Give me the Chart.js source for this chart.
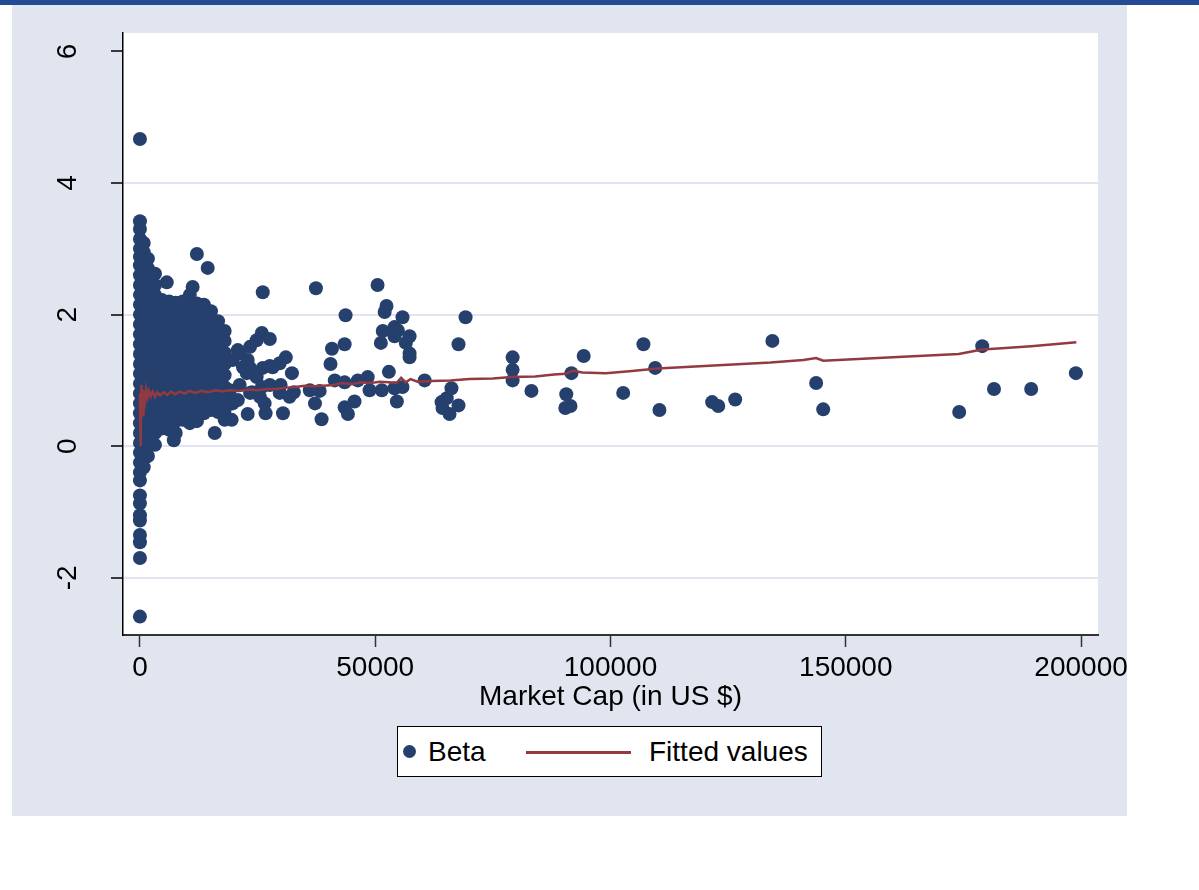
<!DOCTYPE html>
<html>
<head>
<meta charset="utf-8">
<title>Beta vs Market Cap</title>
<script src="https://cdn.jsdelivr.net/npm/chart.js@4.4.1/dist/chart.umd.min.js"></script>
<style>
    html, body { margin: 0; padding: 0; background: #fff; }
    body { width: 1199px; height: 890px; position: relative; overflow: hidden;
           font-family: 'Liberation Sans', Arial, sans-serif; }
    #topbar { position: absolute; left: 0; top: 0; width: 1199px; height: 5px; background: #234a92; }
    #panel { position: absolute; left: 12px; top: 5px; width: 1115px; height: 811px; background: #e0e5f0; }
    #chart { position: absolute; left: 0; top: 0; }
    #legend { position: absolute; left: 397px; top: 726px; width: 423px; height: 49px;
              border: 1px solid #000; background: #fff; font-size: 28px; line-height: 49px; color: #000; }
    #legend .dot { position: absolute; left: 5px; top: 18px; width: 13px; height: 13px; border-radius: 50%; background: #26406e; }
    #legend .line { position: absolute; left: 128px; top: 24px; width: 105px; height: 3px; background: #923a40; }
    #lab0 { position: absolute; left: 30px; top: 0; }
    #lab1 { position: absolute; left: 251px; top: 0; }
</style>
</head>
<body>
<div id="topbar"></div>
<div id="panel"></div>
<canvas id="chart" width="1199" height="890"></canvas>
<div id="legend">
    <span class="dot"></span><span id="lab0"></span>
    <span class="line"></span><span id="lab1"></span>
</div>
<script>
const seriesNames = ['Beta', 'Fitted values'];
const xTicks = [0, 50000, 100000, 150000, 200000];
const yTicks = [-2, 0, 2, 4, 6];

// dense cluster near zero market cap: one column of betas per cap value
const clusterCaps = [0, 800, 1700, 3200, 4700, 5700, 6200, 7200, 7600, 9100, 10600, 11200,
                     12100, 13600, 14400, 15100, 15900, 16600, 18000];
const clusterBetas = [
    [4.67, 3.42, 3.30, 3.15, 3.00, 2.88, 2.75, 2.60, 2.45, 2.30, 2.15, 2.00, 1.85, 1.70, 1.55, 1.40, 1.25, 1.10,
     0.95, 0.80, 0.65, 0.50, 0.35, 0.20, 0.05, -0.10, -0.25, -0.40, -0.52, -0.75, -0.87, -1.05, -1.13, -1.35,
     -1.46, -1.70, -2.59],
    [3.09, 2.95, 2.80, 2.65, 2.50, 2.35, 2.20, 2.05, 1.90, 1.75, 1.60, 1.45, 1.30, 1.15, 1.00, 0.85, 0.70, 0.55,
     0.40, 0.25, 0.10, -0.05, -0.20, -0.32],
    [2.85, 2.70, 2.55, 2.40, 2.25, 2.10, 1.95, 1.80, 1.65, 1.50, 1.35, 1.20, 1.05, 0.90, 0.75, 0.60, 0.45, 0.30,
     0.15, 0.00, -0.15],
    [2.62, 2.45, 2.30, 2.15, 2.00, 1.85, 1.70, 1.55, 1.40, 1.25, 1.10, 0.95, 0.80, 0.65, 0.50, 0.35, 0.20, 0.02],
    [2.22, 2.07, 1.92, 1.77, 1.62, 1.47, 1.32, 1.17, 1.02, 0.87, 0.72, 0.57, 0.42, 0.27],
    [2.49],
    [2.20, 2.05, 1.90, 1.75, 1.60, 1.45, 1.30, 1.15, 1.00, 0.85, 0.70, 0.55, 0.40, 0.25],
    [0.09],
    [2.18, 2.03, 1.88, 1.73, 1.58, 1.43, 1.28, 1.13, 0.98, 0.83, 0.68, 0.53, 0.38, 0.20],
    [2.20, 2.05, 1.90, 1.75, 1.60, 1.45, 1.30, 1.15, 1.00, 0.85, 0.70, 0.55, 0.40],
    [2.30, 2.15, 2.00, 1.85, 1.70, 1.55, 1.40, 1.25, 1.10, 0.95, 0.80, 0.65, 0.50, 0.35],
    [2.42],
    [2.92, 2.17, 2.02, 1.87, 1.72, 1.57, 1.42, 1.27, 1.12, 0.97, 0.82, 0.67, 0.52, 0.38],
    [2.15, 2.00, 1.85, 1.70, 1.55, 1.40, 1.25, 1.10, 0.95, 0.80, 0.65, 0.50],
    [2.71],
    [2.05, 1.90, 1.75, 1.60, 1.45, 1.30, 1.15, 1.00, 0.85, 0.70, 0.55],
    [0.20],
    [1.90, 1.72, 1.55, 1.38, 1.20, 1.03, 0.86, 0.69, 0.52],
    [1.75, 1.60, 1.42, 1.25, 1.08, 0.90, 0.72, 0.55, 0.40]
];

// the more scattered firms, [market cap, beta]
const spreadPoints = [
    [19100, 0.85], [19500, 0.40], [19700, 1.31], [19700, 0.65], [20800, 1.46], [20800, 0.70], [21200, 1.41],
    [21200, 0.93], [21900, 1.20], [22700, 1.11], [22900, 1.31], [22900, 0.49], [23400, 1.51], [23400, 1.19],
    [23400, 0.81], [23800, 0.82], [24800, 1.61], [24800, 1.05], [25500, 0.75], [25900, 1.72], [25900, 0.90],
    [26100, 2.34], [26100, 1.19], [26500, 0.65], [26700, 0.50], [27600, 1.63], [27600, 1.22], [27600, 0.93],
    [28200, 1.20], [29700, 1.26], [29700, 0.81], [29900, 0.93], [30400, 0.50], [31000, 1.35], [31800, 0.75],
    [32300, 1.11], [32700, 0.82], [36100, 0.85], [37200, 0.65], [37400, 2.40], [38200, 0.84], [38600, 0.41],
    [40500, 1.25], [40800, 1.48], [41400, 1.00], [43500, 1.55], [43500, 0.97], [43500, 0.59], [43700, 1.99],
    [44200, 0.49], [45600, 0.68], [46300, 1.00], [48400, 1.05], [48800, 0.85], [50500, 2.45], [51200, 1.57],
    [51400, 0.85], [51600, 1.75], [52000, 2.04], [52400, 2.13], [52900, 1.13], [54100, 1.81], [54100, 1.67],
    [54100, 0.88], [54600, 0.68], [54800, 1.76], [55800, 1.96], [55800, 0.90], [56500, 1.57], [57300, 1.67],
    [57300, 1.41], [57300, 1.35], [60500, 1.00], [64100, 0.67], [64300, 0.58], [65200, 0.73], [65800, 0.49],
    [66200, 0.88], [67700, 1.55], [67700, 0.62], [69200, 1.96], [79200, 1.35], [79200, 1.16], [79200, 1.00],
    [83200, 0.84], [90400, 0.58], [90600, 0.79], [91500, 0.61], [91700, 1.11], [94300, 1.37], [102700, 0.81],
    [107000, 1.55], [109500, 1.19], [110400, 0.55], [121600, 0.67], [122900, 0.61], [126500, 0.71],
    [134400, 1.60], [143700, 0.96], [145200, 0.56], [174100, 0.52], [179000, 1.52], [181500, 0.87],
    [189400, 0.87], [198900, 1.11]
];

// fitted values, [market cap, fit]
const fittedPoints = [
    [0, 0.80], [150, 0.00], [300, 0.93], [450, 0.72], [600, 0.86], [750, 0.45], [900, 0.84], [1100, 0.72],
    [1300, 0.86], [1600, 0.74], [1900, 0.84], [2300, 0.76], [2700, 0.83], [3200, 0.75], [3700, 0.82],
    [4300, 0.77], [5000, 0.82], [5800, 0.78], [6600, 0.83], [7500, 0.79], [8500, 0.83], [9500, 0.80],
    [10500, 0.84], [11800, 0.81], [13000, 0.84], [14500, 0.82], [16000, 0.85], [17500, 0.83], [19000, 0.85],
    [21000, 0.84], [23000, 0.86], [25000, 0.85], [27000, 0.87], [29000, 0.87], [31000, 0.89], [33000, 0.90],
    [35000, 0.92], [37000, 0.91], [39000, 0.92], [41000, 0.93], [43000, 0.96], [45000, 0.94], [47000, 0.97],
    [49000, 0.96], [51000, 0.98], [53000, 0.97], [54500, 0.96], [55500, 1.04], [56500, 0.97], [57500, 1.02],
    [59000, 0.98], [62000, 0.99], [66000, 1.00], [70000, 1.02], [75000, 1.03], [79000, 1.05], [84000, 1.06],
    [88000, 1.09], [90500, 1.10], [92000, 1.15], [94000, 1.12], [99000, 1.11], [104000, 1.14], [110000, 1.18],
    [118000, 1.21], [126000, 1.24], [134000, 1.27], [141000, 1.31], [143700, 1.34], [145200, 1.30],
    [160000, 1.35], [174000, 1.40], [179000, 1.47], [181500, 1.48], [189400, 1.52], [199000, 1.58]
];

const FONT = "'Liberation Sans', Arial, sans-serif";

document.getElementById('lab0').textContent = seriesNames[0];
document.getElementById('lab1').textContent = seriesNames[1];

const betaData = [];
clusterCaps.forEach((cap, i) => {
    clusterBetas[i].forEach(b => betaData.push({ x: cap, y: b }));
});
spreadPoints.forEach(p => betaData.push({ x: p[0], y: p[1] }));
const fitData = fittedPoints.map(p => ({ x: p[0], y: p[1] }));

// white plot region on top of the grey panel
const plotBackground = {
    id: 'plotBackground',
    beforeDraw(chart) {
        const { ctx, chartArea: a } = chart;
        ctx.save();
        ctx.fillStyle = '#ffffff';
        ctx.fillRect(a.left, a.top, a.right - a.left, a.bottom - a.top);
        ctx.restore();
    }
};

new Chart(document.getElementById('chart'), {
    type: 'scatter',
    data: {
        datasets: [{
            label: seriesNames[0],
            data: betaData,
            backgroundColor: '#26406e',
            borderWidth: 0,
            pointRadius: 7,
            pointHoverRadius: 7,
            order: 1
        }, {
            label: seriesNames[1],
            data: fitData,
            showLine: true,
            borderColor: '#923a40',
            borderWidth: 2.5,
            pointRadius: 0,
            fill: false,
            tension: 0,
            order: 0
        }]
    },
    options: {
        responsive: false,
        animation: false,
        devicePixelRatio: 1,
        layout: { padding: { left: 0, top: 33, right: 101, bottom: 175 } },
        plugins: { legend: { display: false }, tooltip: { enabled: false } },
        scales: {
            x: {
                type: 'linear',
                min: -3600,
                max: 203600,
                afterBuildTicks: s => { s.ticks = xTicks.map(v => ({ value: v })); },
                afterFit: s => { s.height = 80; s.paddingLeft = 0; s.paddingRight = 0; },
                grid: { drawOnChartArea: false, drawTicks: true, tickLength: 12, tickColor: '#333', tickWidth: 1.5 },
                border: { display: true, color: '#333', width: 2 },
                ticks: {
                    color: '#000', font: { size: 28, family: FONT }, padding: 4,
                    maxRotation: 0, autoSkip: false, callback: v => String(v)
                },
                title: {
                    display: true, text: 'Market Cap (in US $)', color: '#000',
                    font: { size: 28, family: FONT }, padding: { top: 0, bottom: 1 }
                }
            },
            y: {
                type: 'linear',
                min: -2.87,
                max: 6.28,
                afterBuildTicks: s => { s.ticks = yTicks.map(v => ({ value: v })); },
                afterFit: s => { s.width = 123; s.paddingTop = 0; s.paddingBottom = 0; },
                grid: {
                    color: c => (c.tick && c.tick.value === 6) ? 'rgba(0,0,0,0)' : '#e0e5f0',
                    lineWidth: 2, tickLength: 12, tickColor: '#000', tickWidth: 1.5
                },
                border: { display: true, color: '#000', width: 1.5 },
                ticks: {
                    color: '#000', font: { size: 28, family: FONT }, padding: 30,
                    minRotation: 90, maxRotation: 90, crossAlign: 'center', autoSkip: false,
                    callback: v => String(v)
                }
            }
        }
    },
    plugins: [plotBackground]
});
</script>
</body>
</html>
